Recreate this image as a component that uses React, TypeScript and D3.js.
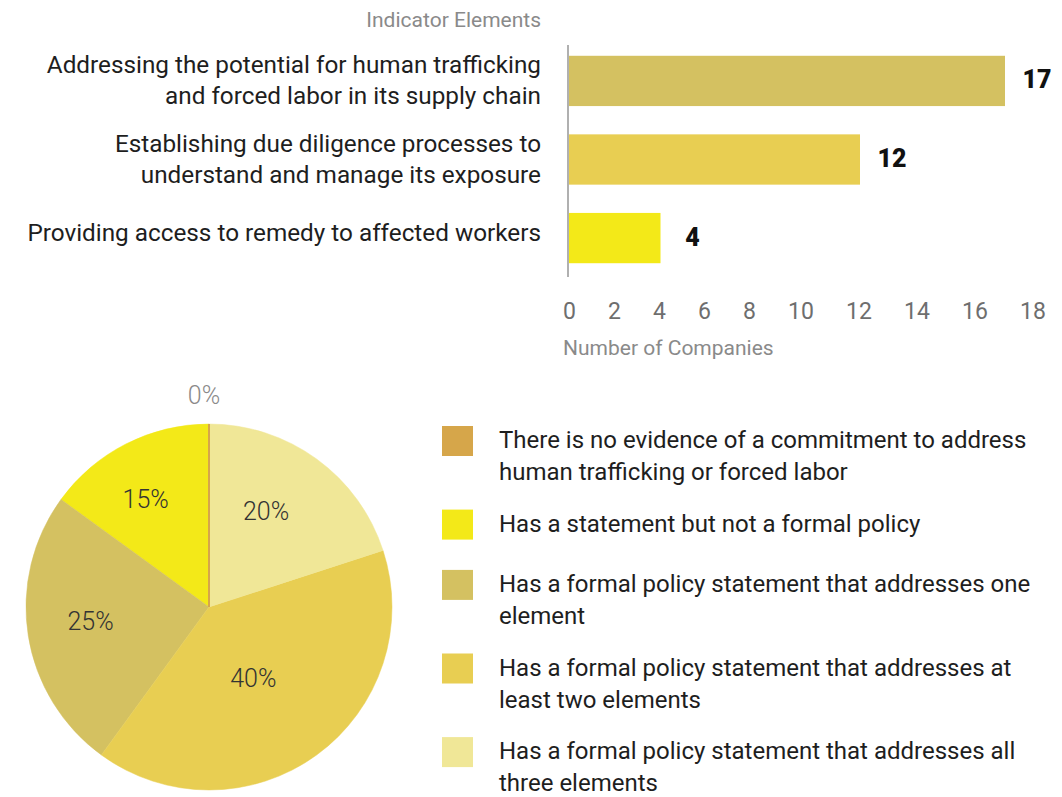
import React from "react";
import * as d3 from "d3";

// ---------- Data ----------
const barCategories: string[][] = [
  ["Addressing the potential for human trafficking", "and forced labor in its supply chain"],
  ["Establishing due diligence processes to", "understand and manage its exposure"],
  ["Providing access to remedy to affected workers"],
];
const barValues: number[] = [17, 12, 4];
const barColors: string[] = ["#D4C161", "#E8CE52", "#F3E918"];
const xTicks: number[] = [0, 2, 4, 6, 8, 10, 12, 14, 16, 18];

const pieLabels: string[][] = [
  ["There is no evidence of a commitment to address", "human trafficking or forced labor"],
  ["Has a statement but not a formal policy"],
  ["Has a formal policy statement that addresses one", "element"],
  ["Has a formal policy statement that addresses at", "least two elements"],
  ["Has a formal policy statement that addresses all", "three elements"],
];
const pieValues: number[] = [0, 15, 25, 40, 20];
const pieColors: string[] = ["#D6A64A", "#F3E918", "#D4C161", "#E8CE52", "#F0E797"];

const FONT = "Roboto, 'Noto Sans', sans-serif";

export default function App() {
  const W = 1062;
  const H = 797;

  // x axis: tick labels laid out with constant gaps between them (as in the original)
  const digitW = 13;
  const gap = 32;
  const axisLeft = 563;
  const tickCenters: number[] = [];
  let cursor = axisLeft;
  xTicks.forEach((t) => {
    const w = String(t).length * digitW;
    tickCenters.push(cursor + w / 2 + 1);
    cursor += w + gap;
  });
  const x = d3.scaleLinear().domain(xTicks).range(tickCenters);
  const axisX = 568;

  const y = d3
    .scaleBand<number>()
    .domain(barValues.map((_, i) => i))
    .range([44, 275])
    .paddingInner(0.36)
    .paddingOuter(0.15);

  // pie
  const cx = 209;
  const cy = 607;
  const r = 183;
  const pie = d3
    .pie<number>()
    .sort(null)
    .value((d) => d)
    .startAngle(0)
    .endAngle(-2 * Math.PI);
  const arcs = pie(pieValues);
  const arcGen = d3.arc<d3.PieArcDatum<number>>().innerRadius(0).outerRadius(r);
  const total = d3.sum(pieValues);

  const drawOrder = arcs
    .map((a, i) => ({ a, i }))
    .sort((p, q) => (p.a.value === 0 ? 1 : 0) - (q.a.value === 0 ? 1 : 0));

  // legend layout
  const legendX = 442;
  const legendTextX = 499;
  const lineH = 32;
  let ly = 426;
  const legendItems = pieLabels.map((lines, i) => {
    const item = { lines, y: ly, color: pieColors[i] };
    ly += 37 + 23.3 * lines.length;
    return item;
  });

  return (
    <svg width={W} height={H} style={{ position: "absolute", left: 0, top: 0, fontFamily: FONT }}>
      <rect width={W} height={H} fill="#ffffff" />

      {/* Bar chart */}
      <text x={541} y={27} textAnchor="end" fontSize={21} fill="#8a8a8a">
        Indicator Elements
      </text>
      {barValues.map((v, i) => {
        const y0 = y(i)!;
        const bw = y.bandwidth();
        const c = y0 + bw / 2;
        const lines = barCategories[i];
        const shift = lines.length === 1 ? -6 : -0.5;
        return (
          <g key={i}>
            <rect x={axisX} y={y0} width={x(v) - axisX} height={bw} fill={barColors[i]} />
            <text
              x={x(v) + 32}
              y={c - 1}
              textAnchor="middle"
              dominantBaseline="central"
              fontSize={25}
              fontWeight={900}
              fill="#111"
            >
              {v}
            </text>
            {lines.map((ln, k) => (
              <text
                key={k}
                x={541}
                y={c + shift + (k - (lines.length - 1) / 2) * 31}
                textAnchor="end"
                dominantBaseline="central"
                fontSize={24.3}
                fill="#1e1e1e"
              >
                {ln}
              </text>
            ))}
          </g>
        );
      })}
      <line x1={axisX} x2={axisX} y1={45} y2={277} stroke="#b0b0b0" strokeWidth={2} />
      {xTicks.map((t) => (
        <text key={t} x={x(t) - 1} y={319} textAnchor="middle" fontSize={23} fill="#6e6e6e">
          {t}
        </text>
      ))}
      <text x={563} y={355} fontSize={21} fill="#8a8a8a">
        Number of Companies
      </text>

      {/* Pie chart */}
      <g transform={`translate(${cx},${cy})`}>
        {drawOrder.map(({ a, i }) => (
          <path
            key={i}
            d={arcGen(a) || ""}
            fill={pieColors[i]}
            stroke={pieColors[i]}
            strokeWidth={a.value === 0 ? 2 : 0.5}
          />
        ))}
        {arcs.map((a, i) => {
          const mid = (a.startAngle + a.endAngle) / 2;
          const half = Math.abs(a.endAngle - a.startAngle) / 2;
          const pct = Math.round((a.value / total) * 100) + "%";
          if (a.value === 0) {
            const d = r + 29;
            return (
              <text
                key={i}
                x={Math.sin(mid) * d - 5}
                y={-Math.cos(mid) * d}
                textAnchor="middle"
                dominantBaseline="central"
                fontSize={25}
                fontWeight={300}
                fill="#8a8a8a"
              >
                {pct}
              </text>
            );
          }
          const d = (2 * r * Math.sin(half)) / (3 * half);
          return (
            <text
              key={i}
              x={Math.sin(mid) * d - 10}
              y={-Math.cos(mid) * d - 3}
              textAnchor="middle"
              dominantBaseline="central"
              fontSize={25}
              fontWeight={300}
              fill="#333"
            >
              {pct}
            </text>
          );
        })}
      </g>

      {/* Legend */}
      {legendItems.map((it, i) => (
        <g key={i}>
          <rect x={legendX} y={it.y} width={31} height={30} fill={it.color} />
          {it.lines.map((ln, k) => (
            <text
              key={k}
              x={legendTextX}
              y={it.y + 14 + k * lineH}
              dominantBaseline="central"
              fontSize={24}
              fill="#1e1e1e"
            >
              {ln}
            </text>
          ))}
        </g>
      ))}
    </svg>
  );
}
